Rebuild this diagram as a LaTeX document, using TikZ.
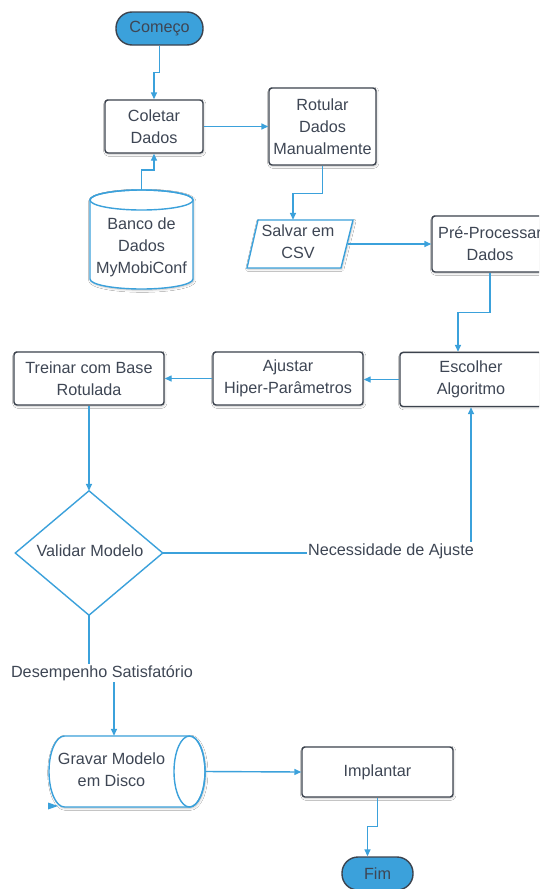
\documentclass[tikz,border=0pt]{standalone}
\usepackage{fontspec}
\setmainfont{Liberation Sans}
\usetikzlibrary{arrows.meta,shadows.blur,calc}
\definecolor{lblue}{RGB}{59,161,219}
\definecolor{dgray}{RGB}{60,67,78}
\definecolor{tgray}{RGB}{62,70,84}
\begin{document}
\begin{tikzpicture}[x=1pt,y=-1pt,
  every node/.style={font=\fontsize{16.2}{22}\selectfont, text=tgray, inner sep=0pt, align=center},
  proc/.style={draw=dgray, line width=1.4pt, fill=white, rounded corners=3pt,
    blur shadow={shadow xshift=0.8pt, shadow yshift=-1.2pt, shadow blur steps=4, shadow opacity=25}},
  term/.style={draw=dgray, line width=1.4pt, fill=lblue, rounded corners=16pt},
  conn/.style={draw=lblue, line width=1.4pt, -{Triangle[length=7pt,width=6pt]}},
  shp/.style={draw=lblue, line width=1.4pt, fill=white},
  shpshadow/.style={blur shadow={shadow xshift=0.8pt, shadow yshift=-1.2pt, shadow blur steps=4, shadow opacity=25}},
  lbl/.style={fill=white, inner sep=1pt},
  ghost/.style={draw=none, fill=none}
]
\useasboundingbox (0,0) rectangle (539,889);
\clip (0,0) rectangle (539,889);
\fill[white] (0,0) rectangle (539,889);

% terminals and processes
\node[term, minimum width=87pt, minimum height=33pt] (comeco) at (159.5,28.5) {Começo};
\node[proc, minimum width=98pt, minimum height=53pt] (coletar) at (154,126.5) {Coletar\\Dados};
\node[proc, minimum width=107pt, minimum height=77pt] (rotular) at (322.5,126.5) {Rotular\\Dados\\Manualmente};

% database cylinder
\node[ghost, minimum width=103pt, minimum height=99pt] (banco) at (141.5,239.5) {};
\path[shp, shpshadow] (90,200) -- (90,279) arc[start angle=180, end angle=0, x radius=51.5, y radius=10]
  -- (193,200) arc[start angle=0, end angle=-180, x radius=51.5, y radius=10] -- cycle;
\draw[lblue, line width=1.4pt] (141.5,200) ellipse[x radius=51.5, y radius=10];
\node (bancotxt) at (141.5,247) {Banco de\\Dados\\MyMobiConf};

% parallelogram
\node[ghost, minimum width=106pt, minimum height=48pt] (salvar) at (300,244) {};
\path[shp, shpshadow] (258,220) -- (353,220) -- (341,268) -- (247,268) -- cycle;
\node (salvartxt) at (298,242) {Salvar em\\CSV};

\node[proc, minimum width=116pt, minimum height=56pt] (pre) at (490,244) {Pré-Processar\\Dados};
\node[proc, minimum width=142pt, minimum height=54pt] (escolher) at (471,379.5) {Escolher\\Algoritmo};
\node[proc, minimum width=150pt, minimum height=53pt] (ajustar) at (288,378.5) {Ajustar\\Hiper-Parâmetros};
\node[proc, minimum width=150pt, minimum height=53pt] (treinar) at (89,378.5) {Treinar com Base\\Rotulada};

% decision diamond
\node[ghost, minimum width=147pt, minimum height=124pt] (valid) at (89,553) {};
\path[shp] (valid.north) -- (valid.east) -- (valid.south) -- (valid.west) -- cycle;
\node (validtxt) at (90,551) {Validar Modelo};

% horizontal cylinder
\node[ghost, minimum width=156pt, minimum height=71pt] (gravar) at (127,771.5) {};
\path[shp, shpshadow] (189.5,736) -- (64.5,736) arc[start angle=270, end angle=90, x radius=15.5, y radius=35.5]
  -- (189.5,807) arc[start angle=90, end angle=-90, x radius=15.5, y radius=35.5] -- cycle;
\draw[lblue, line width=1.4pt] (189.5,771.5) ellipse[x radius=15.5, y radius=35.5];
\node (gravartxt) at (111.5,770) {Gravar Modelo\\em Disco};
\fill[lblue] (48,802.5) -- (58,806) -- (48,809.5) -- cycle;

\node[proc, minimum width=151pt, minimum height=50pt] (implantar) at (377.5,772) {Implantar};
\node[term, minimum width=71pt, minimum height=33pt] (fim) at (377.5,873.5) {Fim};

% connectors
\draw[conn] (comeco.south) -- ++(0,27) -| (coletar.north);
\draw[conn] (coletar.east) -- (rotular.west);
\draw[conn] (banco.north) -- ++(0,-20) -| (coletar.south);
\draw[conn] (rotular.south) -- ++(0,28) -| ([xshift=-7pt]salvar.north);
\draw[conn] ([xshift=-5pt]salvar.east) -- (salvar.east -| pre.west);
\draw[conn] (pre.south) -- ++(0,40) -| ([xshift=-13pt]escolher.north);
\draw[conn] (escolher.west) -- (escolher.west -| ajustar.east);
\draw[conn] (ajustar.west) -- (treinar.east);
\draw[conn] (treinar.south) -- (treinar.south |- valid.north);
\draw[conn] (valid.east) -- (valid.east -| escolher.south) -- (escolher.south);
\node[lbl] (nec) at (391,551) {Necessidade de Ajuste};
\draw[conn] (valid.south) -- ++(0,57) -| ([xshift=-13pt]gravar.north);
\node[lbl] (des) at (102,673) {Desempenho Satisfatório};
\draw[conn] (gravar.east) -- (implantar.west);
\draw[conn] (implantar.south) -- ++(0,29) -| ([xshift=-10pt]fim.north);
\end{tikzpicture}
\end{document}
